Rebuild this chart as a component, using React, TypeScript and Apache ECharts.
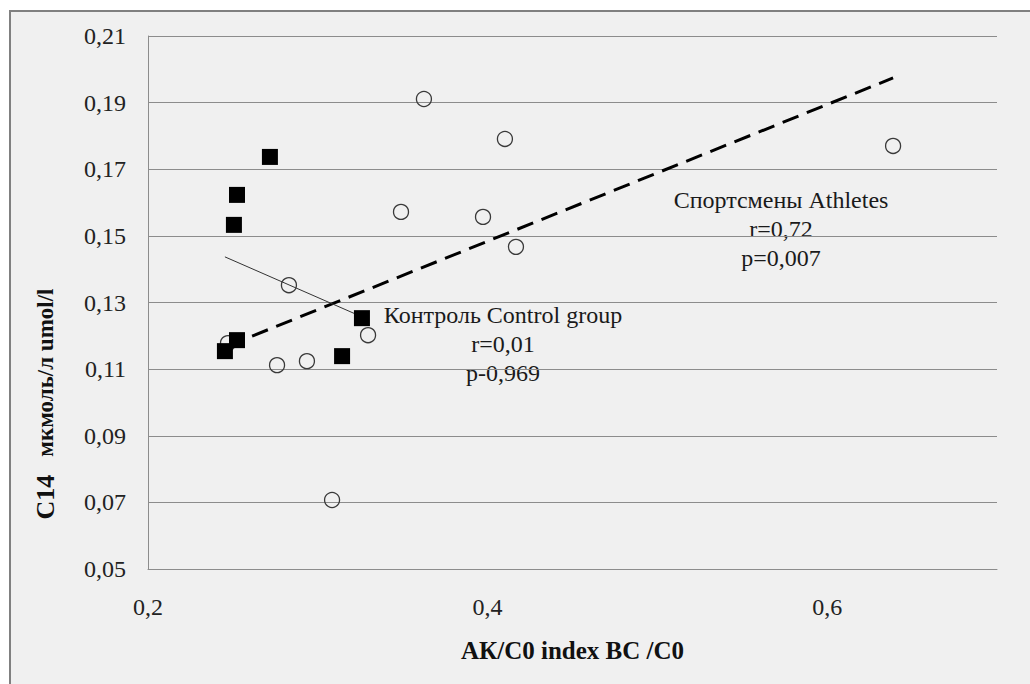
import React, { useEffect, useRef } from 'react';
import * as echarts from 'echarts';

// Athletes (open circles)
const athletesX = [0.3625, 0.4102, 0.349, 0.3973, 0.4167, 0.283, 0.3296, 0.2471, 0.276, 0.2936, 0.3084, 0.6388];
const athletesY = [0.1911, 0.1791, 0.1572, 0.1557, 0.1467, 0.1352, 0.1202, 0.1178, 0.1112, 0.1124, 0.0707, 0.177];
// Control group (filled squares)
const controlX = [0.2718, 0.2524, 0.2506, 0.326, 0.2524, 0.2453, 0.3143];
const controlY = [0.1737, 0.1623, 0.1533, 0.1253, 0.1187, 0.1154, 0.1139];
// Trend lines (end points)
const athletesTrendX = [0.2471, 0.6388];
const athletesTrendY = [0.117, 0.1974];
const controlTrendX = [0.2453, 0.326];
const controlTrendY = [0.1437, 0.1257];

// Axes
const xMin = 0.2, xMax = 0.7, xStep = 0.2;
const yMin = 0.05, yMax = 0.21, yStep = 0.02;

const xTitle = 'АК/С0 index ВС /С0';
const yTitleMain = 'C14';
const yTitleUnit = 'мкмоль/л umol/l';
const controlNote = ['Контроль Control group', 'r=0,01', 'p-0,969'];
const athletesNote = ['Спортсмены Athletes', 'r=0,72', 'p=0,007'];

const FONT = 'Liberation Serif, serif';

const pairs = (xs: number[], ys: number[]) => xs.map((x, i) => [x, ys[i] - yMin]);

export default function App() {
  const ref = useRef<HTMLDivElement>(null);
  useEffect(() => {
    if (!ref.current) return;
    const chart = echarts.init(ref.current, undefined, { renderer: 'svg' });
    const noteText = (lines: string[], x: number, y: number) => ({
      type: 'text',
      x,
      y,
      style: {
        text: lines.join('\n'),
        fontFamily: FONT,
        fontSize: 24,
        fill: '#1a1a1a',
        align: 'center',
        verticalAlign: 'top',
        lineHeight: 29,
      },
    });
    chart.setOption({
      animation: false,
      backgroundColor: 'transparent',
      grid: { left: 148, top: 36, right: 33, bottom: 115 },
      xAxis: {
        type: 'value',
        min: xMin,
        max: xMax,
        interval: xStep,
        name: xTitle,
        nameLocation: 'middle',
        nameGap: 69,
        nameTextStyle: { fontFamily: FONT, fontWeight: 'bold', fontSize: 25, color: '#111' },
        axisLine: { show: true, lineStyle: { color: '#8c8c8c', width: 1 } },
        axisTick: { show: false },
        splitLine: { show: false },
        axisLabel: {
          showMaxLabel: false,
          margin: 26,
          fontFamily: FONT,
          fontSize: 24,
          color: '#222',
          formatter: (v: number) => v.toFixed(1).replace('.', ','),
        },
      },
      yAxis: {
        type: 'value',
        min: 0,
        max: yMax - yMin,
        interval: yStep,
        axisLine: { show: true, lineStyle: { color: '#8c8c8c', width: 1 } },
        axisTick: { show: false },
        splitLine: { show: true, lineStyle: { color: '#8c8c8c', width: 1 } },
        axisLabel: {
          margin: 22,
          fontFamily: FONT,
          fontSize: 24,
          color: '#222',
          formatter: (v: number) => (v + yMin).toFixed(2).replace('.', ','),
        },
      },
      graphic: [
        {
          type: 'text',
          x: 45,
          y: 404,
          rotation: Math.PI / 2,
          style: {
            text: `{a|${yTitleMain}}{g|      }{b|${yTitleUnit}}`,
            align: 'center',
            verticalAlign: 'middle',
            rich: {
              a: { fontFamily: FONT, fontWeight: 'bold', fontSize: 26, fill: '#111' },
              g: { fontFamily: FONT, fontWeight: 'bold', fontSize: 12 },
              b: { fontFamily: FONT, fontWeight: 'bold', fontSize: 23, fill: '#111' },
            },
          },
        },
        noteText(controlNote, 503, 300),
        noteText(athletesNote, 781, 185),
      ],
      series: [
        {
          name: 'Athletes trend',
          type: 'line',
          data: pairs(athletesTrendX, athletesTrendY),
          showSymbol: false,
          symbol: 'none',
          lineStyle: { color: '#000', width: 3, type: [17, 9] },
          z: 1,
        },
        {
          name: 'Control trend',
          type: 'line',
          data: pairs(controlTrendX, controlTrendY),
          showSymbol: false,
          symbol: 'none',
          lineStyle: { color: '#333', width: 1 },
          z: 1,
        },
        {
          name: 'Athletes',
          type: 'scatter',
          data: pairs(athletesX, athletesY),
          symbol: 'circle',
          symbolSize: 15,
          itemStyle: { color: 'rgba(0,0,0,0)', borderColor: '#3a3a3a', borderWidth: 1.3, opacity: 1 },
          z: 3,
        },
        {
          name: 'Control group',
          type: 'scatter',
          data: pairs(controlX, controlY),
          symbol: 'rect',
          symbolSize: 16,
          itemStyle: { color: '#000', opacity: 1 },
          z: 4,
        },
      ],
    });
    return () => chart.dispose();
  }, []);

  return (
    <div style={{ position: 'fixed', left: 0, top: 0, width: 1030, height: 684, overflow: 'hidden', background: '#fff' }}>
      <div
        style={{
          position: 'absolute',
          left: 9,
          top: 10,
          width: 1100,
          height: 800,
          border: '2px solid #808080',
          background: '#f0f0f0',
        }}
      />
      <div ref={ref} style={{ position: 'absolute', left: 0, top: 0, width: 1030, height: 684 }} />
    </div>
  );
}
